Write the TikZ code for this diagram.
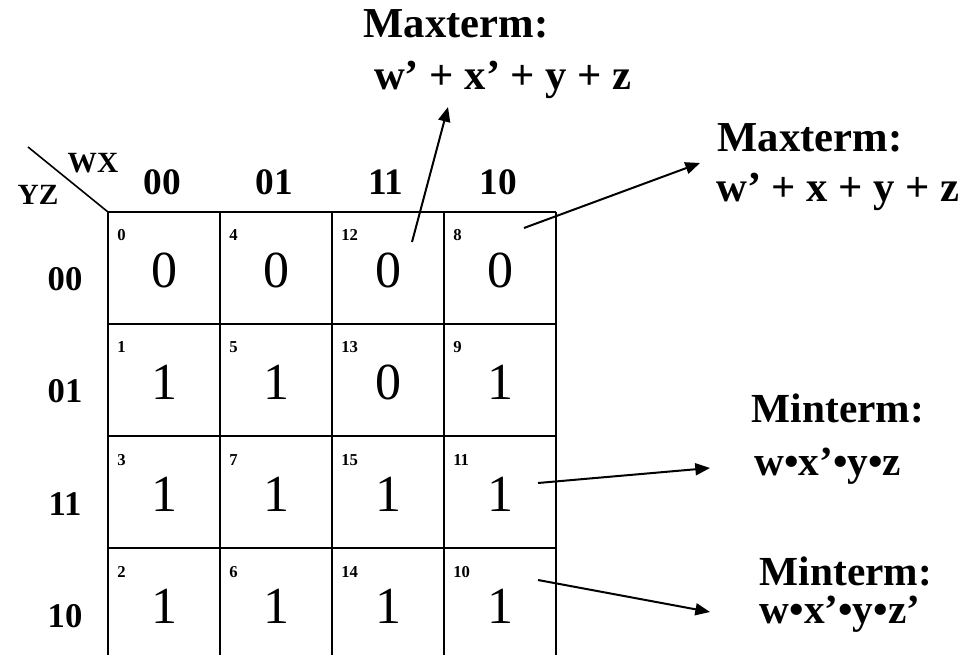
\documentclass[tikz,border=0pt]{standalone}
\usepackage{fontspec}
\setmainfont{Liberation Serif}
\usetikzlibrary{arrows.meta}
\tikzset{
  px/.style={x=0.75pt,y=-0.75pt},
  gridline/.style={line width=1.5pt},
  val/.style={inner sep=0pt,font=\fontsize{39}{39}\selectfont},
  idx/.style={inner sep=0pt,anchor=base west,font=\fontsize{12.5}{12.5}\selectfont\bfseries},
  hdr/.style={inner sep=0pt,anchor=base,font=\fontsize{28}{28}\selectfont\bfseries},
  rowhdr/.style={inner sep=0pt,anchor=base,font=\fontsize{26}{26}\selectfont\bfseries},
  corner/.style={inner sep=0pt,anchor=base,font=\fontsize{22}{22}\selectfont\bfseries},
  term/.style={inner sep=0pt,anchor=base,font=\fontsize{32}{32}\selectfont\bfseries},
  mterm/.style={inner sep=0pt,anchor=base,font=\fontsize{31}{31}\selectfont\bfseries},
  arr/.style={line width=1.5pt,-{Triangle[length=11pt,width=9pt]}}
}
\begin{document}
\begin{tikzpicture}[px]
\useasboundingbox (0,0) rectangle (963,655);
\clip (0,0) rectangle (963,655);
% grid
\foreach \x in {108,220,332,444,556} \draw[gridline] (\x,212) -- (\x,670);
\foreach \y in {212,324,436,548} \draw[gridline] (108,\y) -- (556,\y);
\coordinate (c0) at (108,212);
\coordinate (d0) at (28,147);
\draw[line width=1.2pt] (d0) -- (c0);
\node[corner] (wx) at (93,173) {WX};
\node[corner] (yz) at (38,205) {YZ};
% column headers
\node[hdr] (h00) at (162,195) {00};
\node[hdr] (h01) at (274,195) {01};
\node[hdr] (h11) at (386,195) {11};
\node[hdr] (h10) at (498,195) {10};
% row headers
\node[rowhdr] (r00) at (65,291) {00};
\node[rowhdr] (r01) at (65,403) {01};
\node[rowhdr] (r11) at (65,515) {11};
\node[rowhdr] (r10) at (65,627) {10};
% cells: column x-left, row y-top, index, value
\foreach \cx/\cy/\i/\v/\n in {
  108/212/0/0/a, 220/212/4/0/b, 332/212/12/0/c, 444/212/8/0/d,
  108/324/1/1/e, 220/324/5/1/f, 332/324/13/0/g, 444/324/9/1/h,
  108/436/3/1/i, 220/436/7/1/j, 332/436/15/1/k, 444/436/11/1/l,
  108/548/2/1/m, 220/548/6/1/n, 332/548/14/1/o, 444/548/10/1/p} {
  \node[idx] (i\n) at (\cx+9,\cy+29) {\i};
  \node[val] (v\n) at (\cx+56,\cy+58) {\v};
}
% annotations
\node[term] (t1) at (456,38) {Maxterm:};
\node[term] (f1) at (503,90) {w’ + x’ + y + z};
\node[term] (t2) at (810,152) {Maxterm:};
\node[term] (f2) at (838,202) {w’ + x + y + z};
\node[mterm] (t3) at (838,423) {Minterm:};
\node[mterm] (f3) at (828,475) {w•x’•y•z};
\node[mterm] (t4) at (846,585) {Minterm:};
\node[mterm] (f4) at (840,623) {w•x’•y•z’};
% arrows
\coordinate (s1) at (412,242); \coordinate (e1) at (448,107);
\coordinate (s2) at (524,228); \coordinate (e2) at (700,163);
\coordinate (s3) at (538,483); \coordinate (e3) at (710,468);
\coordinate (s4) at (538,580); \coordinate (e4) at (710,612);
\draw[arr] (s1) -- (e1);
\draw[arr] (s2) -- (e2);
\draw[arr] (s3) -- (e3);
\draw[arr] (s4) -- (e4);
\end{tikzpicture}
\end{document}
